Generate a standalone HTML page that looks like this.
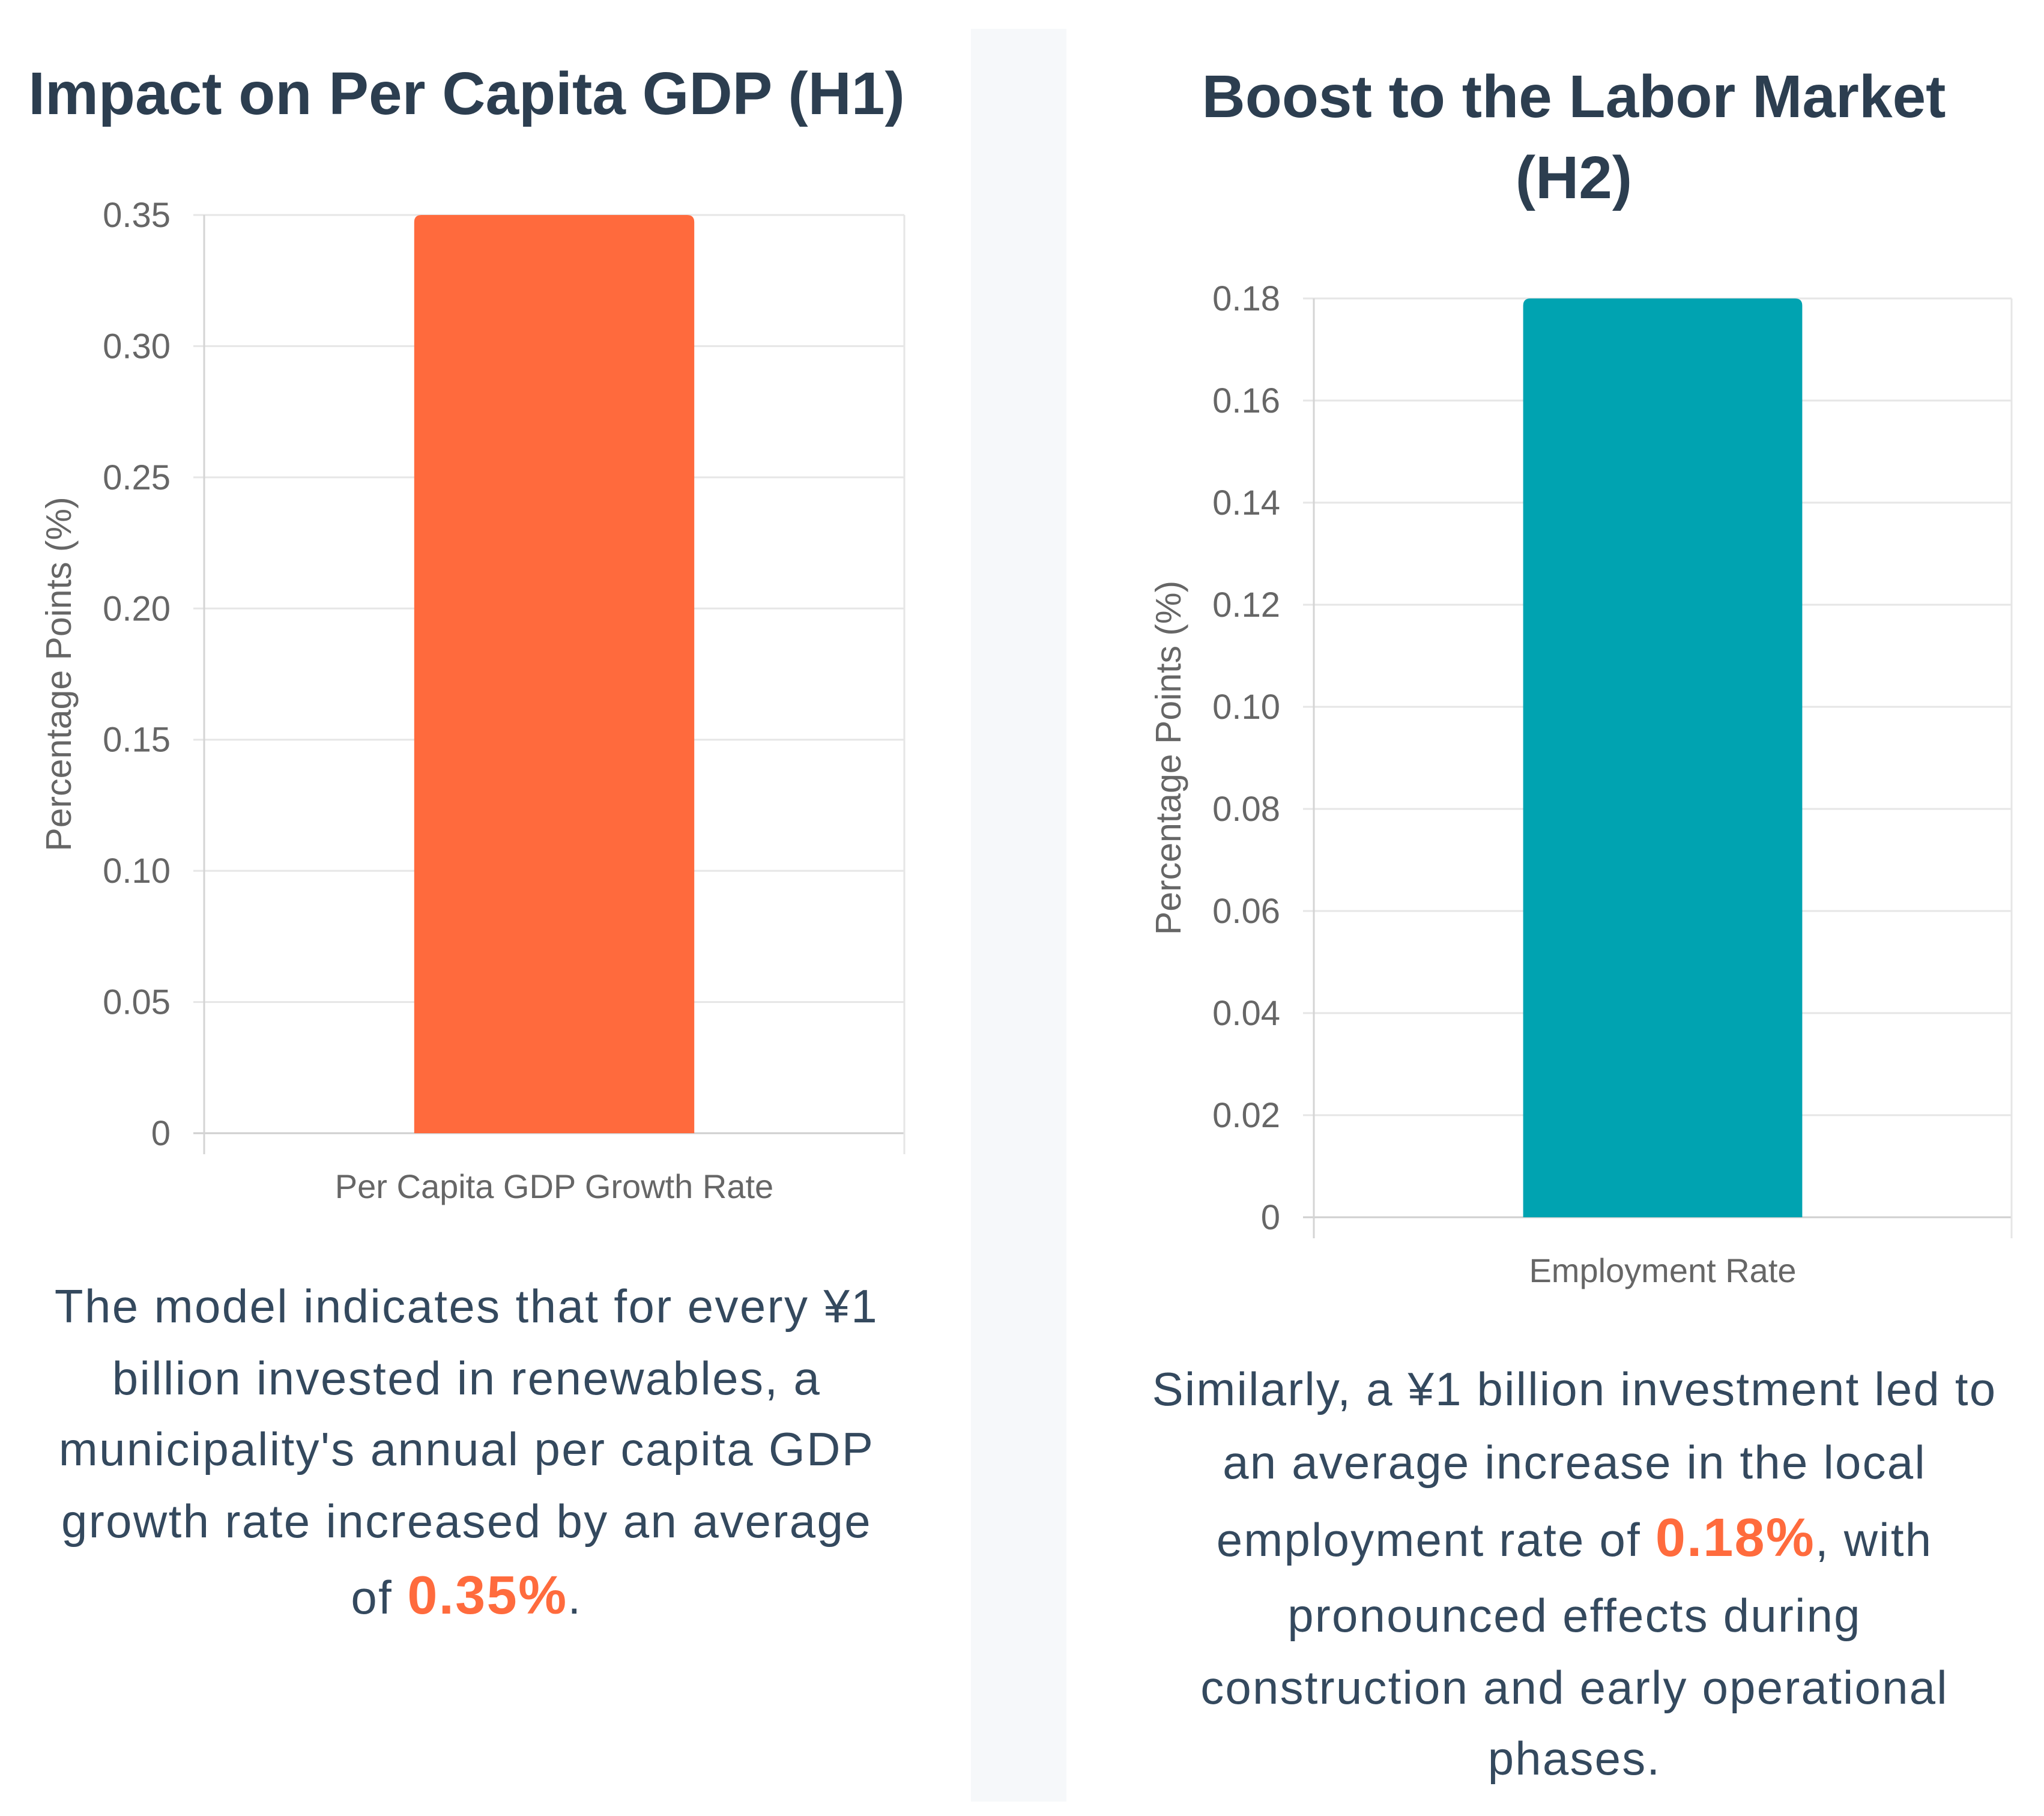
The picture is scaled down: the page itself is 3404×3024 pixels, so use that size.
<!DOCTYPE html>
<html><head><meta charset="utf-8"><style>
html,body{margin:0;padding:0;background:#fff;width:3404px;height:3024px;overflow:hidden;font-family:"Liberation Sans",sans-serif;}
svg text{font-family:"Liberation Sans",sans-serif;}
</style></head><body>
<svg width="3404" height="3024" viewBox="0 0 3404 3024">
<rect x="1617" y="48" width="159" height="2952" fill="#f6f8fa"/>
<text x="777" y="190" text-anchor="middle" font-size="100" font-weight="bold" fill="#2c3e50">Impact on Per Capita GDP (H1)</text>
<text x="2621" y="195" text-anchor="middle" font-size="100" font-weight="bold" fill="#2c3e50">Boost to the Labor Market</text>
<text x="2621" y="330" text-anchor="middle" font-size="100" font-weight="bold" fill="#2c3e50">(H2)</text>
<g id="c1"></g>
<g id="c2"></g>
<g font-size="78" letter-spacing="2.4" fill="#34495e" text-anchor="middle">
<text x="777" y="2202">The model indicates that for every ¥1</text>
<text x="777" y="2322">billion invested in renewables, a</text>
<text x="777" y="2440">municipality's annual per capita GDP</text>
<text x="777" y="2560">growth rate increased by an average</text>
<text x="777" y="2687">of <tspan fill="#ff6b3d" font-weight="bold" font-size="90">0.35%</tspan>.</text>
</g>
<g font-size="78" letter-spacing="2.2" fill="#34495e" text-anchor="middle">
<text x="2622" y="2340">Similarly, a ¥1 billion investment led to</text>
<text x="2622" y="2462">an average increase in the local</text>
<text x="2622" y="2591">employment rate of <tspan fill="#ff6b3d" font-weight="bold" font-size="90">0.18%</tspan>, with</text>
<text x="2622" y="2717">pronounced effects during</text>
<text x="2622" y="2837">construction and early operational</text>
<text x="2622" y="2955">phases.</text>
</g>
</svg>
<script>
const gdpCategories=["Per Capita GDP Growth Rate"];
const gdpValues=[0.35];
const gdpTicks=[0,0.05,0.10,0.15,0.20,0.25,0.30,0.35];
const gdpTickLabels=["0","0.05","0.10","0.15","0.20","0.25","0.30","0.35"];
const empCategories=["Employment Rate"];
const empValues=[0.18];
const empTicks=[0,0.02,0.04,0.06,0.08,0.10,0.12,0.14,0.16,0.18];
const empTickLabels=["0","0.02","0.04","0.06","0.08","0.10","0.12","0.14","0.16","0.18"];
const NS="http://www.w3.org/2000/svg";
function mk(g,tag,attrs,txt){const e=document.createElementNS(NS,tag);for(const k in attrs)e.setAttribute(k,attrs[k]);if(txt!==undefined)e.textContent=txt;g.appendChild(e);return e;}
function chart(id,cats,vals,ticks,labels,maxV,box,color,ytitleX){
 const g=document.getElementById(id);
 const y=v=>box.y1-(v/maxV)*(box.y1-box.y0);
 const bw=(box.x1-box.x0)/cats.length;
 ticks.forEach((t,i)=>{
  const gl=mk(g,'line',{x1:box.x0-18,x2:box.x1,y1:y(t),y2:y(t),stroke:t===0?'#cfcfcf':'#e6e6e6','stroke-width':3});
  
  
  const tl=mk(g,'text',{x:box.x0-56,y:y(t)+20,'text-anchor':'end','font-size':58,fill:'#666'},labels[i]);
  
  
 });
 const ax=mk(g,'line',{x1:box.x0,x2:box.x0,y1:box.y0,y2:box.y1+35,stroke:'#d4d4d4','stroke-width':3});
 
 
 const rx=mk(g,'line',{x1:box.x1,x2:box.x1,y1:box.y0,y2:box.y1+35,stroke:'#e6e6e6','stroke-width':3});
 
 
 cats.forEach((c,i)=>{
  const cx=box.x0+bw*(i+0.5);const w=bw*0.4;
  const top=y(vals[i]);
  const b=mk(g,'path',{d:`M${cx-w/2},${box.y1} L${cx-w/2},${top+12} Q${cx-w/2},${top} ${cx-w/2+12},${top} L${cx+w/2-12},${top} Q${cx+w/2},${top} ${cx+w/2},${top+12} L${cx+w/2},${box.y1} Z`,fill:color});
  
  
  const xl=mk(g,'text',{x:cx,y:box.y1+108,'text-anchor':'middle','font-size':56,fill:'#666'},c);
  
  
 });
 const cy=(box.y0+box.y1)/2;
 const yt=mk(g,'text',{x:ytitleX,y:cy,'text-anchor':'middle','font-size':59,fill:'#666',transform:`rotate(-90 ${ytitleX} ${cy})`},'Percentage Points (%)');
 
 
}
chart('c1',gdpCategories,gdpValues,gdpTicks,gdpTickLabels,0.35,{x0:340,x1:1506,y0:358,y1:1887},'#ff6a3d',118);
chart('c2',empCategories,empValues,empTicks,empTickLabels,0.18,{x0:2188,x1:3350,y0:497,y1:2027},'#00a3b1',1966);
</script>
</body></html>
